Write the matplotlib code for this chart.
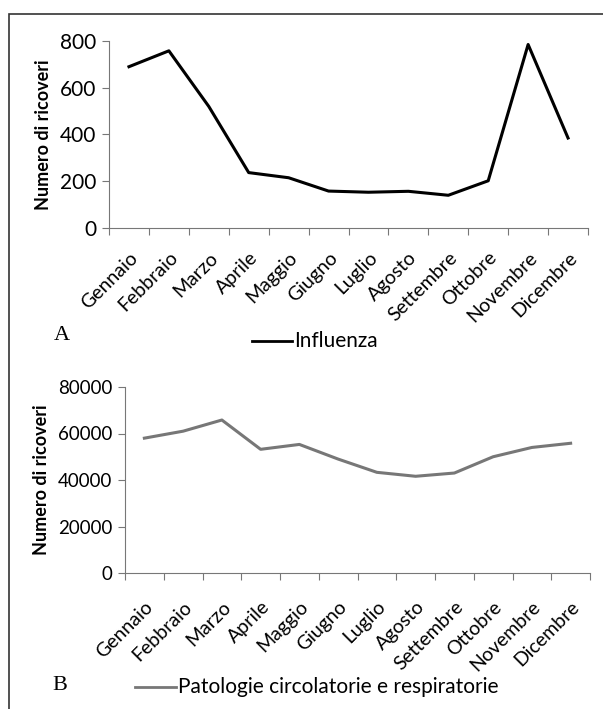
import matplotlib.pyplot as plt
from matplotlib.patches import Rectangle

mesi = ['Gennaio', 'Febbraio', 'Marzo', 'Aprile', 'Maggio', 'Giugno',
        'Luglio', 'Agosto', 'Settembre', 'Ottobre', 'Novembre', 'Dicembre']
influenza = [690, 758, 520, 237, 215, 158, 153, 157, 140, 202, 785, 385]
patologie = [58000, 61000, 65800, 53200, 55300, 49000,
             43300, 41600, 43000, 50000, 54000, 55800]

plt.rcParams['font.family'] = ['Lato', 'DejaVu Sans']

fig = plt.figure(figsize=(6.03, 7.09), dpi=100)
fig.patches.append(Rectangle((9 / 603, -0.01), 1.0, 1 - 14 / 709 + 0.01,
                             transform=fig.transFigure, fill=False,
                             edgecolor='#333333', linewidth=1.2))


def pannello(rect, valori, colore, ymax, passo, ytsize, xpad, lettera, leg_x, leg_y, testo):
    ax = fig.add_axes(rect)
    x = range(len(valori))
    ax.plot(x, valori, color=colore, linewidth=2.2)
    ax.set_xlim(-0.5, len(valori) - 0.5)
    ax.set_ylim(0, ymax)
    ax.set_yticks(range(0, ymax + 1, passo))
    ax.set_xticks([i - 0.5 for i in range(len(valori) + 1)])
    ax.set_xticklabels([])
    ax.set_xticks(list(x), minor=True)
    ax.set_xticklabels(mesi, minor=True, rotation=45, ha='right',
                       rotation_mode='anchor', fontsize=14)
    ax.tick_params(axis='x', which='minor', length=0, pad=xpad)
    ax.tick_params(axis='x', which='major', length=5, color='#777777', direction='out')
    ax.tick_params(axis='y', length=5, color='#777777', labelsize=ytsize, pad=4)
    for s in ['top', 'right']:
        ax.spines[s].set_visible(False)
    for s in ['left', 'bottom']:
        ax.spines[s].set_color('#777777')
    ax.set_ylabel('Numero di ricoveri', fontsize=13, fontweight='bold', labelpad=6)
    fig.text(lettera[1] / 603, 1 - lettera[2] / 709, lettera[0],
             family='Liberation Serif', fontsize=16, ha='center', va='center')
    y = 1 - leg_y / 709
    fig.lines.append(plt.Line2D([leg_x[0] / 603, leg_x[1] / 603], [y, y],
                                transform=fig.transFigure, color=colore, linewidth=2))
    fig.text((leg_x[1] + 2) / 603, y, testo, fontsize=15, va='center')
    return ax


pannello([109 / 603, 1 - 228 / 709, 479 / 603, 187 / 709], influenza, 'black',
         800, 200, 15, 15, ('A', 62, 336), (252, 292), 341, 'Influenza')

pannello([125 / 603, 1 - 573 / 709, 465 / 603, 186 / 709], patologie, '#777777',
         80000, 20000, 13.5, 18, ('B', 60, 686), (135, 176), 687,
         'Patologie circolatorie e respiratorie')

fig.savefig('out.png', dpi=100)
